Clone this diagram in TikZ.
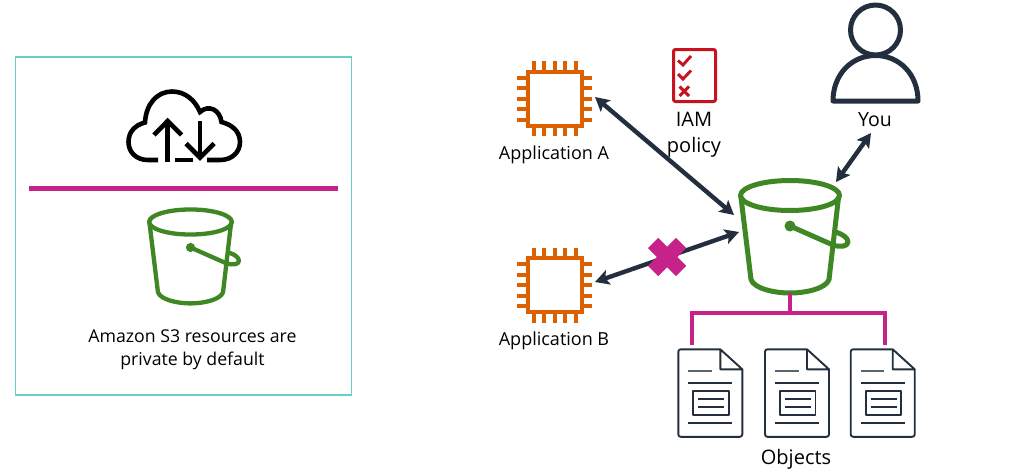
\documentclass[tikz,border=0pt]{standalone}
\usepackage{fontspec}
\setmainfont{Open Sans}
\usetikzlibrary{arrows.meta}
\definecolor{awsgreen}{HTML}{3F8624}
\definecolor{awsorange}{HTML}{DD6000}
\definecolor{awsred}{HTML}{C7131F}
\definecolor{awsink}{HTML}{232F3E}
\definecolor{awsmagenta}{HTML}{C7218A}
\definecolor{panelteal}{HTML}{66CFC6}
\tikzset{
  label text/.style={font=\fontsize{17.7}{23}\selectfont,text=black,inner sep=0pt,align=center},
  anchor box/.style={inner sep=0pt,minimum width=#1,minimum height=#1},
  biarrow/.style={draw=awsink,line width=4.4pt,{Stealth[length=14pt,width=15pt,inset=3pt]}-{Stealth[length=14pt,width=15pt,inset=3pt]}},
  tree/.style={draw=awsmagenta,line width=3.6pt},
  docline/.style={draw=awsink,line width=1.9pt},
}
% #1 x, #2 y, #3 scale, #4 line width
\newcommand{\bucketicon}[4]{%
  \begin{scope}[shift={(#1,#2)},scale=#3,draw=awsgreen,line width=#4,line join=round,line cap=round]
    \draw (0,0) ellipse [x radius=49.5,y radius=15];
    \draw (-49,2) -- (-39,84) .. controls (-36,93) and (-16,97.5) .. (0,97.5) .. controls (16,97.5) and (36,93) .. (39,84) -- (48.5,2);
    \draw (0,30.5) -- (43,49.5) .. controls (50,52) and (58,51) .. (58,46.5) .. controls (58,42.5) and (53,39) .. (47,37);
    \fill[awsgreen] (0,30.5) circle (5.5);
  \end{scope}}
% #1 x, #2 y
\newcommand{\chipicon}[2]{%
  \begin{scope}[shift={(#1,#2)},draw=awsorange,line width=4pt]
    \draw (-27,-27) rectangle (27,27);
    \foreach \d in {-21,-10.5,0,10.5,21}{
      \draw (\d,-37.5) -- (\d,-27);
      \draw (\d,27) -- (\d,37.5);
      \draw (-37.5,\d) -- (-27,\d);
      \draw (27,\d) -- (37.5,\d);
    }
  \end{scope}}
% #1 left x, #2 top y
\newcommand{\docicon}[2]{%
  \begin{scope}[shift={(#1,#2)},draw=awsink,line join=round]
    \draw[docline] (42,0) -- (2.5,0) .. controls (1,0) and (0,1) .. (0,2.5) -- (0,85) .. controls (0,86.5) and (1,87.5) .. (2.5,87.5) -- (61.5,87.5) .. controls (63,87.5) and (64,86.5) .. (64,85) -- (64,20) -- (42,0) -- (42,20) -- (64,20);
    \draw[docline,draw=awsink!75] (10,22) -- (33.5,22);
    \draw[docline] (10,33.5) -- (54,33.5);
    \draw[docline] (15,41.5) rectangle (50.5,66);
    \draw[docline] (20,50) -- (46,50);
    \draw[docline] (20,58) -- (46,58);
    \draw[docline] (10,73.5) -- (54,73.5);
  \end{scope}}
\begin{document}
\begin{tikzpicture}[x=1pt,y=-1pt]
\useasboundingbox (0,0) rectangle (1030,471);
\fill[white] (0,0) rectangle (1030,471);

% left panel
\node[draw=panelteal,line width=1.3pt,minimum width=336pt,minimum height=338pt,inner sep=0pt] (panel) at (183.2,226) {};
\coordinate (ruleL) at (29,188.5);
\coordinate (ruleR) at (338,188.5);
\draw[awsmagenta,line width=5.6pt] (ruleL) -- (ruleR);

% cloud icon
\begin{scope}[draw=black,line width=4.6pt]
  \draw (158,160) -- (148,160) .. controls (136,160) and (128.5,152) .. (128.5,142)
    .. controls (128.5,132) and (135,125) .. (145,122.5)
    .. controls (146,104) and (157,91.5) .. (172,91.5)
    .. controls (185,91.5) and (195,100) .. (200,112)
    .. controls (209,104) and (220,110) .. (221.5,122)
    .. controls (233,125) and (240,132) .. (240,142)
    .. controls (240,152) and (232,160) .. (220,160) -- (207,160);
  \draw (175,160) -- (193,160);
  \draw (167.7,162) -- (167.7,122);
  \draw (154,135) -- (167.7,121) -- (181.5,135);
  \draw (200,121) -- (200,157);
  \draw (186,143.5) -- (200,157.5) -- (214,143.5);
\end{scope}

\node[anchor box=80pt] (smallbucket) at (190.5,255) {};
\bucketicon{190.5}{222}{0.835}{4.3pt}
\node[label text] (privatetext) at (192.5,350) {Amazon S3 resources are\\private by default};

% applications
\node[anchor box=75pt] (appA) at (554.5,98.5) {};
\chipicon{554.5}{98.5}
\node[label text,font=\fontsize{18}{23}\selectfont] (appAtext) at (554,155) {Application A};
\node[anchor box=75pt] (appB) at (554.5,285) {};
\chipicon{554.5}{285}
\node[label text,font=\fontsize{18}{23}\selectfont] (appBtext) at (554,341) {Application B};

% IAM policy
\node[draw=awsred,line width=3pt,rounded corners=2pt,minimum width=42pt,minimum height=52pt,inner sep=0pt] (iam) at (694.5,75.5) {};
\begin{scope}[draw=awsred,line width=2.9pt]
  \draw (678,60.5) -- (683,65) -- (691,56);
  \draw (678,74) -- (683,79) -- (691,70.5);
  \draw (679.5,86.5) -- (689,96);
  \draw (689,86.5) -- (679.5,96);
\end{scope}
\node[label text,font=\fontsize{20}{26}\selectfont] (iamtext) at (694,134.5) {IAM\\policy};

% user
\node[anchor box=85pt] (you) at (875.5,52) {};
\begin{scope}[draw=awsink,line width=5pt,line join=round]
  \draw (875.5,30) circle (25);
  \draw (833,101) -- (918,101) .. controls (918,74) and (899,55.5) .. (875.5,55.5) .. controls (852,55.5) and (833,74) .. (833,101) -- cycle;
\end{scope}
\node[label text,font=\fontsize{19.5}{24}\selectfont] (youtext) at (875,119.5) {You};

% big bucket
\node[anchor box=100pt] (bucket) at (790,236) {};
\bucketicon{790}{195.5}{1}{5pt}

% connectors
\coordinate (appAend) at (595,97);
\coordinate (bucketA) at (734,215);
\coordinate (appBend) at (595,282);
\coordinate (bucketB) at (739,232);
\coordinate (youend) at (871,133);
\coordinate (bucketY) at (836,182);
\draw[biarrow] (appAend) -- (bucketA);
\draw[biarrow] (appBend) -- (bucketB);
\draw[biarrow] (youend) -- (bucketY);
\coordinate (crossc) at (667,257);
\draw[awsmagenta,line width=14.5pt] (653,243) -- (681,271);
\draw[awsmagenta,line width=14.5pt] (681,243) -- (653,271);

% objects
\node[anchor box=64pt] (doc1) at (710.3,393) {};
\node[anchor box=64pt] (doc2) at (797,393) {};
\node[anchor box=64pt] (doc3) at (882.7,393) {};
\docicon{678.3}{349.3}
\docicon{765}{349.3}
\docicon{850.7}{349.3}
\coordinate (trunk) at (790,313);
\coordinate (leftdrop) at (692,344.5);
\coordinate (rightdrop) at (885,344.5);
\draw[tree] (790,293) -- (trunk);
\draw[tree] (leftdrop) |- (trunk) -| (rightdrop);
\node[label text,font=\fontsize{20}{24}\selectfont] (objectstext) at (796,459) {Objects};
\end{tikzpicture}
\end{document}
